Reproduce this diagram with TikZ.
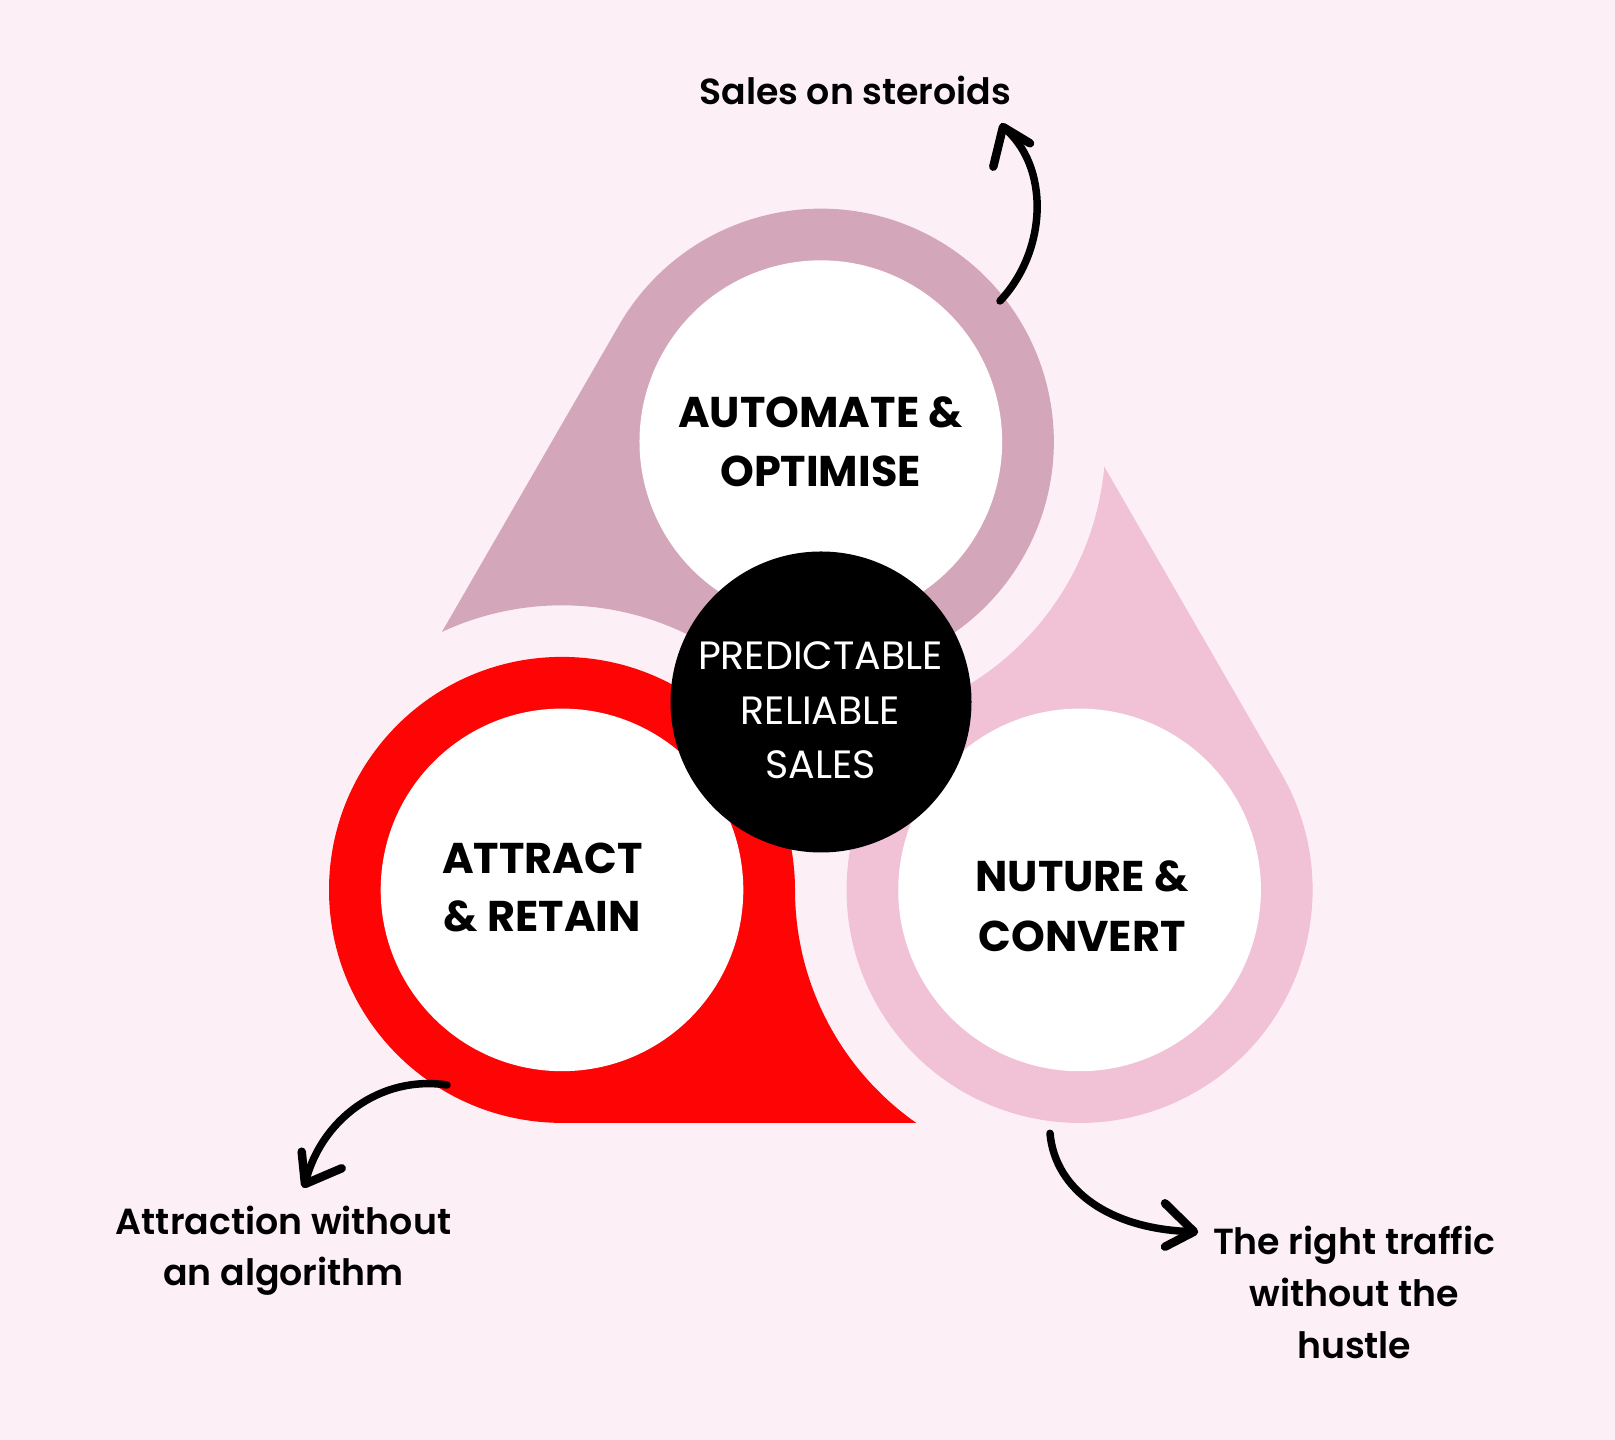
\documentclass[tikz,border=0pt]{standalone}
\usepackage{fontspec}
\setmainfont{Poppins}
\newfontfamily\popsemi{Poppins SemiBold}
\newfontfamily\popbold{Poppins Bold}
\definecolor{bgpink}{HTML}{FCF0F6}
\definecolor{mauve}{HTML}{D4A6B9}
\definecolor{brightred}{HTML}{FE0404}
\definecolor{softpink}{HTML}{F1C1D6}
\newcommand{\petalshape}[2]{%
  \begin{scope}[shift={(820.8,699.5)}, rotate=#1]
    \fill[#2] (-25.8,-149.4) arc[start angle=0, end angle=270, radius=233]
      -- (95.4,-382.4) arc[start angle=234.96, end angle=180, radius=284.6] -- cycle;
    \fill[white] (-258.8,-149.4) circle[radius=181.3];
  \end{scope}}
\begin{document}
\begin{tikzpicture}[x=1pt,y=1pt,
  heading/.style={font=\popbold\fontsize{43}{50}\selectfont, text=black, inner sep=0pt, anchor=base},
  core/.style={font=\fontsize{39.5}{46}\selectfont, text=white, inner sep=0pt, anchor=base},
  note/.style={font=\popsemi\fontsize{36.3}{44}\selectfont, text=black, inner sep=0pt, anchor=base},
  arrowline/.style={line width=7.5pt, line cap=round, line join=round, draw=black},
  arrowhead/.style={line width=8.5pt, line cap=round, line join=round, draw=black}]
\fill[bgpink] (0,0) rectangle (1615,1440);
\useasboundingbox (0,0) rectangle (1615,1440);
% three petals
\petalshape{0}{brightred}
\petalshape{-120}{mauve}
\petalshape{120}{softpink}
% centre disc
\node[circle, fill=black, minimum size=301pt, inner sep=0pt] (centre) at (821,738) {};
% headings
\node[heading] (auto1) at (820.5,1012) {AUTOMATE \&};
\node[heading] (auto2) at (820.5,953) {OPTIMISE};
\node[heading] (attr1) at (542.3,566) {ATTRACT};
\node[heading] (attr2) at (542.3,508) {\& RETAIN};
\node[heading] (nurt1) at (1082,548) {NUTURE \&};
\node[heading] (nurt2) at (1082,488) {CONVERT};
% centre text
\node[core] (pred) at (820.5,770) {PREDICTABLE};
\node[core] (reli) at (820.5,715) {RELIABLE};
\node[core] (sale) at (820.5,661.7) {SALES};
% notes
\node[note] (steroids) at (855.3,1335) {Sales on steroids};
\node[note] (attrnoteA) at (283.5,205) {Attraction without};
\node[note] (attrnoteB) at (283.5,154) {an algorithm};
\node[note] (trafA) at (1354.2,185) {The right traffic};
\node[note] (trafB) at (1354.2,133.3) {without the};
\node[note] (trafC) at (1354.2,81.7) {hustle};
% arrows
\coordinate (topTail) at (1000,1139);
\coordinate (topTip) at (1003,1313);
\coordinate (topArmA) at (993.3,1273.3);
\coordinate (topArmB) at (1030,1296.7);
\draw[arrowline] (topTail) .. controls (1048,1190) and (1050,1275) .. (topTip);
\draw[arrowhead] (topArmA) -- (topTip) -- (topArmB);
\coordinate (leftTail) at (447,355);
\coordinate (leftTip) at (305,256);
\coordinate (leftArmA) at (301.7,288.3);
\coordinate (leftArmB) at (341.7,271.7);
\draw[arrowline] (leftTail) .. controls (380,365) and (320,320) .. (leftTip);
\draw[arrowhead] (leftArmA) -- (leftTip) -- (leftArmB);
\coordinate (rightTail) at (1050,306.7);
\coordinate (rightTip) at (1194,208.3);
\coordinate (rightArmA) at (1165,236.7);
\coordinate (rightArmB) at (1165,193.3);
\draw[arrowline] (rightTail) .. controls (1055,250) and (1110,210) .. (rightTip);
\draw[arrowhead] (rightArmA) -- (rightTip) -- (rightArmB);
\end{tikzpicture}
\end{document}
